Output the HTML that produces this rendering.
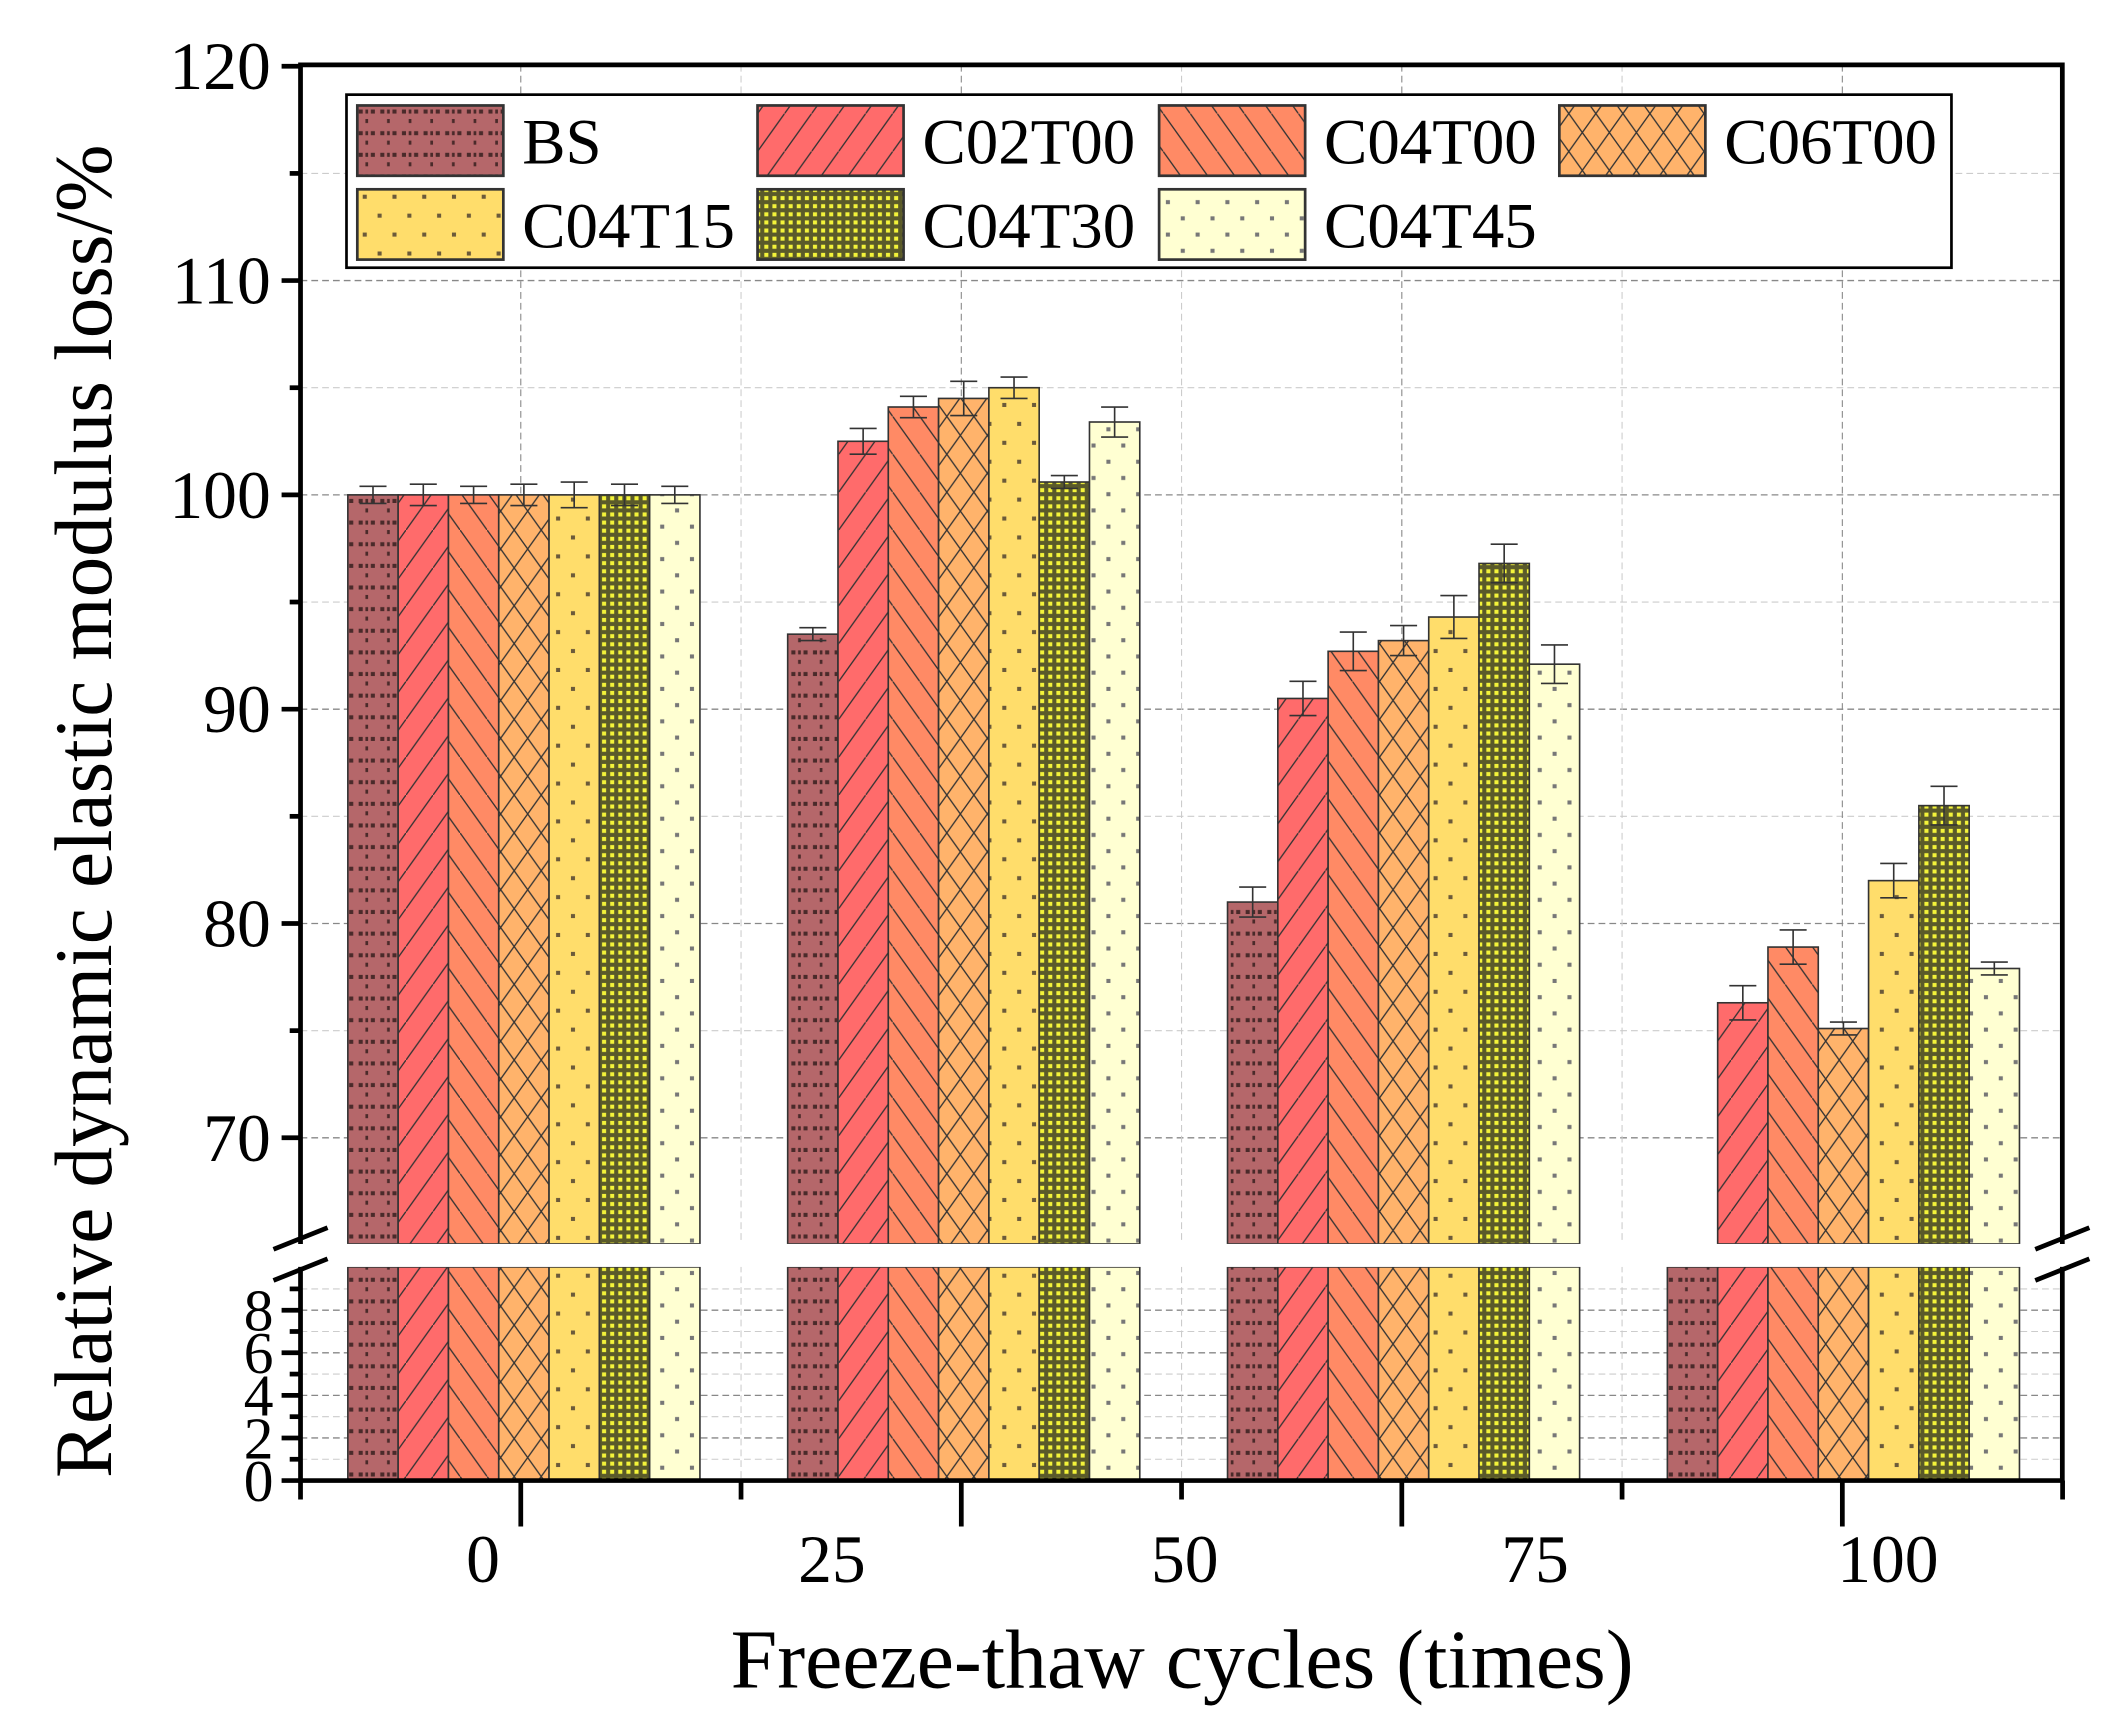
<!DOCTYPE html>
<html><head><meta charset="utf-8"><style>
html,body{margin:0;padding:0;background:#fff}
svg{display:block}
text{font-family:"Liberation Serif",serif;fill:#000}
</style></head><body>
<svg id="chart" width="2110" height="1728" viewBox="0 0 1560 1278" xmlns="http://www.w3.org/2000/svg">
<defs>
<pattern id="p0" patternUnits="userSpaceOnUse" width="16" height="16"><rect width="16" height="16" fill="#b5676a"/><rect x="2" y="1" width="3" height="3" fill="#4a2a2a"/><rect x="9" y="1" width="3" height="3" fill="#4a2a2a"/><rect x="14" y="1" width="2" height="3" fill="#4a2a2a"/><rect x="14" y="8" width="3" height="3" fill="#4a2a2a"/></pattern>
<pattern id="p1" patternUnits="userSpaceOnUse" width="20" height="28"><rect width="20" height="28" fill="#ff6b6b"/><path d="M0 28 L20 0" stroke="#333" stroke-width="1"/></pattern>
<pattern id="p2" patternUnits="userSpaceOnUse" width="20" height="28"><rect width="20" height="28" fill="#ff8a65"/><path d="M0 0 L20 28" stroke="#333" stroke-width="1"/></pattern>
<pattern id="p3" patternUnits="userSpaceOnUse" width="20" height="28"><rect width="20" height="28" fill="#ffb36b"/><path d="M0 0 L20 28 M0 28 L20 0" stroke="#333" stroke-width="1"/></pattern>
<pattern id="p4" patternUnits="userSpaceOnUse" width="22" height="28"><rect width="22" height="28" fill="#ffdd6b"/><rect x="4" y="4" width="3" height="3" fill="#6b5a3a"/><rect x="15" y="18" width="3" height="3" fill="#6b5a3a"/></pattern>
<pattern id="p5" patternUnits="userSpaceOnUse" width="6" height="6"><rect width="6" height="6" fill="#5a5a2a"/><rect x="1" y="1" width="3" height="3" fill="#f3f33a"/></pattern>
<pattern id="p6" patternUnits="userSpaceOnUse" width="22" height="24"><rect width="22" height="24" fill="#ffffd2"/><rect x="4" y="4" width="3" height="3" fill="#777"/><rect x="15" y="16" width="3" height="3" fill="#777"/></pattern>
</defs>
<g id="grid"></g><g id="bars"></g><g id="axes"></g><g id="legend"></g>
<text x="0" y="0" transform="translate(82,600) rotate(-90)" text-anchor="middle" font-size="60">Relative dynamic elastic modulus loss/%</text>
<text x="874" y="1248" text-anchor="middle" font-size="62">Freeze-thaw cycles (times)</text>
</svg>
<script>
const categories = ["0","25","50","75","100"];
const seriesNames = ["BS","C02T00","C04T00","C06T00","C04T15","C04T30","C04T45"];
const sBS =     [100, 93.5, 81.0, 64.0];
const sC02T00 = [100, 102.5, 90.5, 76.3];
const sC04T00 = [100, 104.1, 92.7, 78.9];
const sC06T00 = [100, 104.5, 93.2, 75.1];
const sC04T15 = [100, 105.0, 94.3, 82.0];
const sC04T30 = [100, 100.6, 96.8, 85.5];
const sC04T45 = [100, 103.4, 92.1, 77.9];
const eBS =     [0.4, 0.3, 0.7, 0.3];
const eC02T00 = [0.5, 0.6, 0.8, 0.8];
const eC04T00 = [0.4, 0.5, 0.9, 0.8];
const eC06T00 = [0.5, 0.8, 0.7, 0.3];
const eC04T15 = [0.6, 0.5, 1.0, 0.8];
const eC04T30 = [0.5, 0.3, 0.9, 0.9];
const eC04T45 = [0.4, 0.7, 0.9, 0.3];
const upperTicks = [70,80,90,100,110,120];
const lowerTicks = [0,2,4,6,8];
const series = [sBS,sC02T00,sC04T00,sC06T00,sC04T15,sC04T30,sC04T45];
const errs = [eBS,eC02T00,eC04T00,eC06T00,eC04T15,eC04T30,eC04T45];

const NS="http://www.w3.org/2000/svg";
function mk(tag,attrs,parent){const e=document.createElementNS(NS,tag);for(const k in attrs)e.setAttribute(k,attrs[k]);parent.appendChild(e);return e;}
const L=222,R=1525,T=48,B=1095,BRK_U=920,BRK_L=937;
const yU=v=>366-(v-100)*15.85;
const yL=v=>B-v*15.75;
const groupX=i=>257+i*325.3;
const BW=37.2;
const grid=document.getElementById('grid'),bars=document.getElementById('bars'),axes=document.getElementById('axes'),leg=document.getElementById('legend');

for(let v=70;v<=120;v+=5){const g=mk('line',{x1:L,x2:R,y1:yU(v),y2:yU(v),stroke:v%10?'#ccc':'#888','stroke-width':v%10?0.8:1,'stroke-dasharray':'5,3'},grid);

}
for(let v=1;v<=9;v++){const g=mk('line',{x1:L,x2:R,y1:yL(v),y2:yL(v),stroke:v%2?'#ccc':'#888','stroke-width':v%2?0.8:1,'stroke-dasharray':'5,3'},grid);

}
for(let k=0;k<9;k++){const x=L+k*162.9;const g=mk('line',{x1:x,x2:x,y1:T,y2:B,stroke:k%2?'#888':'#ccc','stroke-width':0.8,'stroke-dasharray':'5,3'},grid);

}

for(let c=0;c<4;c++){for(let s=0;s<7;s++){
 const v=series[s][c],e=errs[s][c],x=groupX(c)+s*BW;
 const lo=mk('rect',{x:x,y:BRK_L,width:BW,height:B-BRK_L,fill:`url(#p${s})`,stroke:'#333','stroke-width':1.2},bars);
 
 
 if(v>65){
  const up=mk('rect',{x:x,y:yU(v),width:BW,height:BRK_U-yU(v),fill:`url(#p${s})`,stroke:'#333','stroke-width':1.2},bars);
  
  
  const cx=x+BW/2,y1=yU(v+e),y2=yU(v-e);
  const eb=mk('path',{d:`M${cx-10} ${y1}H${cx+10}M${cx} ${y1}V${y2}M${cx-10} ${y2}H${cx+10}`,stroke:'#333','stroke-width':1.2,fill:'none'},bars);
  
  
 }
}}
mk('rect',{x:L-1,y:BRK_U,width:R-L+2,height:BRK_L-BRK_U,fill:'#fff'},axes);

const fr=mk('path',{d:`M${L} ${BRK_U}V${T}H${R}V${BRK_U}M${L} ${BRK_L}V${B}H${R}V${BRK_L}`,stroke:'#000','stroke-width':3.5,fill:'none'},axes);


[L,R].forEach(x=>{const b=mk('path',{d:`M${x-20} ${BRK_U+4}L${x+20} ${BRK_U-12}M${x-20} ${BRK_L+10}L${x+20} ${BRK_L-6}`,stroke:'#000','stroke-width':3.5},axes);

});
for(let v=70;v<=120;v+=5){mk('line',{x1:L-(v%10?8:14),x2:L,y1:yU(v),y2:yU(v),stroke:'#000','stroke-width':3.5},axes);}
upperTicks.forEach(v=>{const t=mk('text',{x:L-22,y:yU(v)+17,'text-anchor':'end','font-size':50},axes);t.textContent=v;

});
for(let v=0;v<=9;v++){mk('line',{x1:L-(v%2?8:14),x2:L,y1:yL(v),y2:yL(v),stroke:'#000','stroke-width':3.5},axes);}
lowerTicks.forEach(v=>{const t=mk('text',{x:L-20,y:yL(v)+15,'text-anchor':'end','font-size':44},axes);t.textContent=v;

});
for(let k=0;k<9;k++){const x=L+k*162.9;mk('line',{x1:x,x2:x,y1:B,y2:B+(k%2?34:14),stroke:'#000','stroke-width':3.5},axes);}
const labX=[357,615,876,1135,1396];
categories.forEach((c,i)=>{const t=mk('text',{x:labX[i],y:1170,'text-anchor':'middle','font-size':50},axes);t.textContent=c;

});

const lb=mk('rect',{x:256,y:70,width:1187,height:128,fill:'#fff',stroke:'#000','stroke-width':2},leg);


const colX=[264,560,857,1153];
seriesNames.forEach((n,i)=>{const col=i%4,row=Math.floor(i/4);const x=colX[col],y=row?140:78;
 const sw=mk('rect',{x:x,y:y,width:108,height:52,fill:`url(#p${i})`,stroke:'#333','stroke-width':2},leg);
 
 
 const t=mk('text',{x:x+122,y:y+43,'font-size':48},leg);t.textContent=n;
 
 
});
</script>
</body></html>
